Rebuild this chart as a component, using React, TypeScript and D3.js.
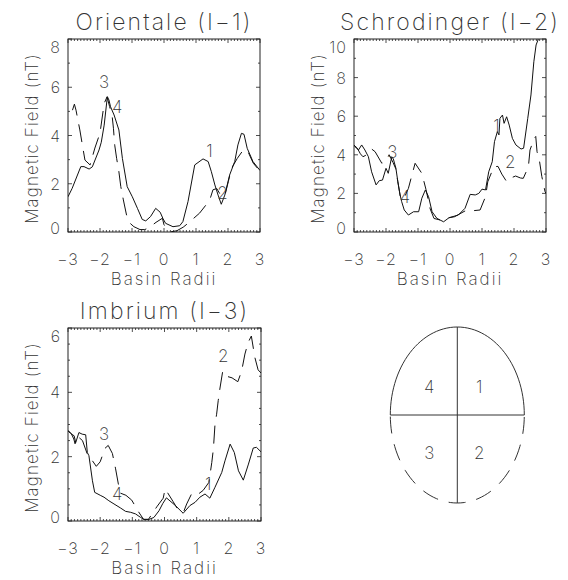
import React from 'react';
import * as d3 from 'd3';

// profiles across each basin, [basin radii, field in nT]
// solid = upper half (quadrants 4 | 1), dashed = lower half (quadrants 3 | 2)
const orientaleSolid: [number, number][] = [
  [-3.0, 1.46], [-2.87, 1.81], [-2.6, 2.71], [-2.5, 2.71], [-2.34, 2.61], [-2.24, 2.7],
  [-2.03, 3.4], [-1.96, 3.72], [-1.87, 4.43], [-1.77, 5.61], [-1.72, 5.47], [-1.67, 5.19],
  [-1.56, 4.85], [-1.41, 4.23], [-1.3, 3.05], [-1.15, 1.88], [-0.99, 1.46], [-0.83, 0.98],
  [-0.68, 0.52], [-0.57, 0.46], [-0.42, 0.64], [-0.26, 0.98], [-0.12, 0.82], [-0.03, 0.55],
  [0.05, 0.36], [0.28, 0.22], [0.49, 0.26], [0.59, 0.43], [0.75, 1.26], [0.96, 2.78],
  [1.22, 3.03], [1.38, 2.92], [1.48, 2.5], [1.59, 1.95], [1.69, 1.53], [1.79, 1.15],
  [1.9, 1.53], [2.05, 2.36], [2.21, 2.92], [2.31, 3.61], [2.42, 4.09], [2.5, 4.05],
  [2.6, 3.47], [2.78, 2.92], [3.0, 2.55],
];
const orientaleDashed: [number, number][] = [
  [-2.86, 5.05], [-2.8, 5.3], [-2.75, 5.05], [-2.63, 4.23], [-2.55, 3.6], [-2.47, 2.98],
  [-2.31, 2.78], [-2.16, 3.48], [-2.0, 4.1], [-1.87, 5.33], [-1.78, 5.6], [-1.7, 5.2],
  [-1.62, 4.8], [-1.58, 4.3], [-1.54, 3.6], [-1.48, 3.05], [-1.41, 2.5], [-1.35, 1.88],
  [-1.27, 1.33], [-1.17, 0.7], [-1.05, 0.35], [-0.94, 0.22], [-0.75, 0.1], [-0.6, 0.1],
  [-0.47, 0.18], [-0.25, 0.4], [-0.05, 0.57], [0.0, 0.3], [0.1, 0.12], [0.22, 0.01],
  [0.4, 0.05], [0.6, 0.2], [0.75, 0.36], [1.11, 0.78], [1.3, 1.1], [1.43, 1.33],
  [1.53, 1.75], [1.65, 1.8], [1.78, 1.5], [1.9, 1.5], [2.01, 2.09], [2.11, 2.64],
  [2.29, 3.05], [2.45, 3.35], [2.6, 3.4], [2.79, 2.85], [2.95, 2.6],
];

const schrodingerSolid: [number, number][] = [
  [-3.0, 4.5], [-2.97, 4.42], [-2.86, 4.25], [-2.76, 4.51], [-2.66, 4.25], [-2.55, 3.9],
  [-2.45, 3.12], [-2.31, 2.44], [-2.21, 2.66], [-2.11, 2.69], [-2.0, 3.3], [-1.93, 3.04],
  [-1.82, 3.9], [-1.77, 3.78], [-1.69, 3.3], [-1.63, 2.61], [-1.56, 1.92], [-1.51, 1.57],
  [-1.43, 1.14], [-1.3, 0.88], [-1.14, 1.05], [-0.98, 1.05], [-0.88, 1.75], [-0.77, 2.18],
  [-0.67, 1.83], [-0.56, 1.05], [-0.41, 0.71], [-0.31, 0.62], [-0.2, 0.53], [-0.03, 0.74],
  [0.26, 0.88], [0.47, 1.23], [0.63, 1.95], [0.79, 1.92], [0.9, 2.0], [1.0, 2.22],
  [1.11, 2.18], [1.21, 3.12], [1.32, 3.64], [1.39, 4.68], [1.48, 5.2], [1.53, 5.03],
  [1.56, 5.89], [1.64, 6.06], [1.69, 5.63], [1.77, 5.97], [1.85, 5.54], [1.95, 4.85],
  [2.06, 4.51], [2.22, 4.3], [2.3, 4.34], [2.43, 5.89], [2.53, 7.1], [2.62, 8.82],
  [2.69, 9.69], [2.75, 9.95], [2.85, 11.2],
];
const schrodingerDashed: [number, number][] = [
  [-3.0, 4.5], [-2.9, 4.35], [-2.8, 4.05], [-2.72, 3.9], [-2.6, 4.0], [-2.45, 4.3],
  [-2.34, 4.16], [-2.13, 3.56], [-2.0, 3.7], [-1.9, 4.0], [-1.78, 3.6], [-1.7, 3.3],
  [-1.63, 2.6], [-1.55, 1.8], [-1.45, 1.7], [-1.3, 2.26], [-1.19, 2.95], [-1.09, 3.56],
  [-0.88, 3.04], [-0.75, 2.2], [-0.62, 1.2], [-0.5, 0.7], [-0.3, 0.62], [-0.1, 0.72],
  [0.14, 0.79], [0.47, 1.09], [0.7, 1.1], [0.94, 1.14], [1.11, 1.83], [1.18, 2.6],
  [1.37, 3.38], [1.5, 3.4], [1.62, 3.0], [1.77, 2.61], [1.9, 2.8], [2.05, 2.9],
  [2.2, 2.8], [2.29, 2.78], [2.45, 3.38], [2.5, 4.25], [2.63, 4.85], [2.68, 4.95],
  [2.72, 4.16], [2.8, 3.64], [2.87, 2.87], [2.97, 2.09], [3.0, 2.0],
];

const imbriumSolid: [number, number][] = [
  [-3.0, 2.8], [-2.92, 2.72], [-2.81, 2.65], [-2.76, 2.44], [-2.66, 2.75], [-2.56, 2.7],
  [-2.45, 2.68], [-2.4, 2.13], [-2.35, 2.03], [-2.24, 1.25], [-2.17, 0.89], [-1.98, 0.79],
  [-1.88, 0.74], [-1.73, 0.63], [-1.57, 0.53], [-1.36, 0.4], [-1.21, 0.3], [-1.05, 0.27],
  [-0.9, 0.22], [-0.74, 0.11], [-0.64, 0.05], [-0.48, 0.05], [-0.33, 0.11], [-0.17, 0.32],
  [-0.05, 0.55], [0.06, 0.72], [0.34, 0.48], [0.58, 0.24], [0.79, 0.48], [0.95, 0.58],
  [1.1, 0.74], [1.26, 0.84], [1.41, 0.71], [1.57, 1.05], [1.78, 1.51], [1.88, 1.87],
  [2.04, 2.39], [2.17, 2.13], [2.3, 1.56], [2.45, 1.27], [2.61, 1.77], [2.76, 2.27],
  [2.86, 2.29], [3.0, 2.15],
];
const imbriumDashed: [number, number][] = [
  [-3.0, 2.82], [-2.9, 2.72], [-2.82, 2.55], [-2.78, 2.4], [-2.72, 2.65], [-2.55, 2.5],
  [-2.4, 2.08], [-2.24, 1.87], [-2.12, 1.7], [-2.0, 1.84], [-1.85, 2.26], [-1.75, 2.35],
  [-1.62, 2.1], [-1.52, 1.62], [-1.44, 1.18], [-1.38, 0.87], [-1.2, 0.8], [-1.02, 0.65],
  [-0.81, 0.29], [-0.65, 0.05], [-0.5, 0.05], [-0.24, 0.44], [-0.04, 0.71], [0.02, 1.0],
  [0.27, 0.6], [0.45, 0.3], [0.6, 0.3], [0.69, 0.53], [0.84, 0.84], [1.0, 0.8],
  [1.2, 0.95], [1.38, 1.2], [1.47, 1.82], [1.52, 2.24], [1.57, 3.01], [1.62, 3.32],
  [1.67, 3.74], [1.72, 4.1], [1.81, 4.66], [1.93, 4.5], [2.1, 4.45], [2.28, 4.33],
  [2.4, 4.67], [2.5, 5.19], [2.6, 5.55], [2.7, 5.75], [2.81, 5.08], [2.91, 4.7], [3.0, 4.6],
];

// quadrant numbers written beside the curves: [label, x, y]
const orientaleTags: [string, number, number][] = [['3', -1.875, 6.23], ['4', -1.46, 5.19], ['1', 1.42, 3.37], ['2', 1.83, 1.63]];
const schrodingerTags: [string, number, number][] = [['3', -1.8, 4.16], ['4', -1.41, 1.8], ['1', 1.45, 5.5], ['2', 1.88, 3.64]];
const imbriumTags: [string, number, number][] = [['3', -1.88, 2.7], ['4', -1.47, 0.84], ['1', 1.36, 1.15], ['2', 1.83, 5.12]];

const xTicks = [-3, -2, -1, 0, 1, 2, 3];
const quadrants = ['1', '2', '3', '4'];

const FONT = 'Inter, "DejaVu Sans", sans-serif';
const INK = '#333';
const WEIGHT = 200;

const fmt = (v: number) => (v < 0 ? `\u2212${-v}` : `${v}`);

type PanelProps = {
  id: string;
  title: string;
  left: number;
  top: number;
  width: number;
  height: number;
  yMax: number;
  yMinor: number;
  solid: [number, number][];
  dashed: [number, number][];
  tags: [string, number, number][];
};

const Panel = ({ id, title, left, top, width, height, yMax, yMinor, solid, dashed, tags }: PanelProps) => {
  const x = d3.scaleLinear().domain([-3, 3]).range([left, left + width]);
  const y = d3.scaleLinear().domain([0, yMax]).range([top + height, top]);
  const line = d3.line<[number, number]>().x(d => x(d[0])).y(d => y(d[1]));
  const yTicks = d3.range(0, yMax + 0.001, 2);
  const yMinorTicks = d3.range(0, yMax + 0.001, yMinor);
  const xMinorTicks = d3.range(-30, 31).map(i => i / 10);
  const bottom = top + height;
  const right = left + width;

  return (
    <g>
      <defs>
        <clipPath id={id}>
          <rect x={left} y={top} width={width} height={height} />
        </clipPath>
      </defs>
      <text x={left + width / 2} y={top - 9} textAnchor="middle" fontSize={23} fontWeight={WEIGHT} letterSpacing={2.1} fill={INK}>
        {title}
      </text>
      <rect x={left} y={top} width={width} height={height} fill="none" stroke="#222" strokeWidth={1} />
      {/* x ticks, bottom and top */}
      {xMinorTicks.map((t, i) => {
        const major = Math.abs(t - Math.round(t)) < 1e-6;
        const len = major ? 4 : 2;
        return (
          <g key={`xt${i}`} stroke="#222" strokeWidth={0.8}>
            <line x1={x(t)} x2={x(t)} y1={bottom} y2={bottom - len} />
            <line x1={x(t)} x2={x(t)} y1={top} y2={top + len} />
          </g>
        );
      })}
      {yMinorTicks.map((t, i) => {
        const major = Math.abs(t / 2 - Math.round(t / 2)) < 1e-6;
        const len = major ? 4 : 2;
        return (
          <g key={`yt${i}`} stroke="#222" strokeWidth={0.8}>
            <line x1={left} x2={left + len} y1={y(t)} y2={y(t)} />
            <line x1={right} x2={right - len} y1={y(t)} y2={y(t)} />
          </g>
        );
      })}
      {xTicks.map(t => (
        <text key={`xl${t}`} x={x(t)} y={bottom + 27} textAnchor="middle" dominantBaseline="central" fontSize={16} fontWeight={WEIGHT} letterSpacing={1} fill={INK}>
          {fmt(t)}
        </text>
      ))}
      {yTicks.map((t, i) => {
        const shift = i === 0 ? -4 : i === yTicks.length - 1 ? 7.5 : 0;
        return (
          <text key={`yl${t}`} x={left - 7} y={y(t) + shift} textAnchor="end" dominantBaseline="central" fontSize={16} fontWeight={WEIGHT} letterSpacing={1} fill={INK}>
            {fmt(t)}
          </text>
        );
      })}
      <text x={left + width / 2} y={bottom + 47} textAnchor="middle" dominantBaseline="central" fontSize={17} fontWeight={WEIGHT} letterSpacing={2} fill={INK}>
        Basin Radii
      </text>
      <text
        transform={`translate(${left - 36},${top + height / 2 + 3}) rotate(-90)`}
        textAnchor="middle"
        dominantBaseline="central"
        fontSize={17}
        fontWeight={WEIGHT}
        letterSpacing={1.1}
        fill={INK}
      >
        Magnetic Field (nT)
      </text>
      <g clipPath={`url(#${id})`} fill="none" stroke="#111" strokeWidth={1}>
        <path d={line(solid) ?? ''} />
        <path d={line(dashed) ?? ''} strokeDasharray="18 9" />
      </g>
      {tags.map(([s, tx, ty]) => (
        <text key={`tag${s}`} x={x(tx)} y={y(ty)} textAnchor="middle" dominantBaseline="central" fontSize={17} fontWeight={WEIGHT} fill={INK}>
          {s}
        </text>
      ))}
    </g>
  );
};

// key diagram: ellipse split into four quadrants
const Key = () => {
  const cx = 457.3;
  const cy = 415;
  const rx = 67;
  const ry = 88;
  const arcPts = d3.range(0, 181, 3).map(a => {
    const r = (a * Math.PI) / 180;
    return [cx - rx * Math.cos(r), cy - ry * Math.sin(r)] as [number, number];
  });
  const lowPts = d3.range(0, 181, 3).map(a => {
    const r = (a * Math.PI) / 180;
    return [cx + rx * Math.cos(r), cy + ry * Math.sin(r)] as [number, number];
  });
  const curve = d3.line();
  const offs: Record<string, [number, number]> = {
    '1': [22, -28],
    '2': [22, 38],
    '3': [-28, 38],
    '4': [-28, -28],
  };
  return (
    <g fill="none" stroke="#333" strokeWidth={1}>
      <path d={curve(arcPts) ?? ''} />
      <path d={curve(lowPts) ?? ''} strokeDasharray="17 11" strokeDashoffset={-2} />
      <line x1={cx - rx} x2={cx + rx} y1={cy} y2={cy} />
      <line x1={cx} x2={cx} y1={cy - ry} y2={cy + ry} />
      {quadrants.map(q => (
        <text key={q} x={cx + offs[q][0]} y={cy + offs[q][1]} textAnchor="middle" dominantBaseline="central" fontSize={17} fontWeight={WEIGHT} fill={INK} stroke="none">
          {q}
        </text>
      ))}
    </g>
  );
};

export default function App() {
  return (
    <svg
      width={568}
      height={580}
      style={{ position: 'absolute', left: 0, top: 0, background: '#fff' }}
      fontFamily={FONT}
    >
      <rect width={568} height={580} fill="#fff" />
      <Panel id="c1" title={'Orientale (I\u22121)'} left={68} top={39} width={192} height={193} yMax={8} yMinor={1}
        solid={orientaleSolid} dashed={orientaleDashed} tags={orientaleTags} />
      <Panel id="c2" title={'Schrodinger (I\u22122)'} left={354} top={39} width={192} height={193} yMax={10} yMinor={1}
        solid={schrodingerSolid} dashed={schrodingerDashed} tags={schrodingerTags} />
      <Panel id="c3" title={'Imbrium (I\u22123)'} left={68} top={328} width={193} height={193} yMax={6} yMinor={0.5}
        solid={imbriumSolid} dashed={imbriumDashed} tags={imbriumTags} />
      <Key />
    </svg>
  );
}
